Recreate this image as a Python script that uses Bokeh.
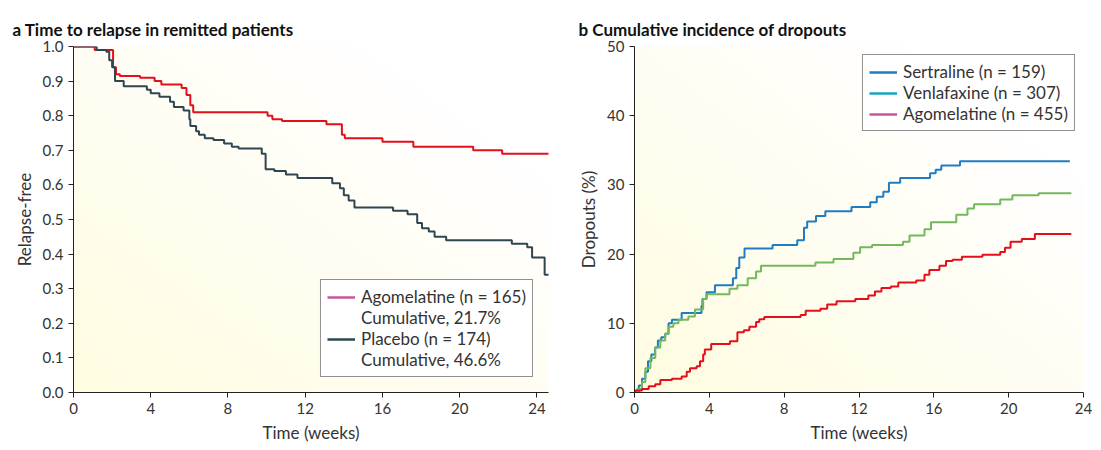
import numpy as np
from bokeh.plotting import figure
from bokeh.layouts import row
from bokeh.models import Legend, LegendItem, Range1d, FixedTicker, CustomJSTickFormatter
from bokeh.embed import file_html
from bokeh.resources import INLINE

# Panel a: Kaplan-Meier relapse-free
ago_a_t = [0, 1.1, 2.05, 2.2, 2.4, 3.45, 4.2, 4.55, 5.6, 5.85, 6.05, 6.2, 10.05, 10.3, 10.8, 13.1, 13.9, 14.05, 16.0, 17.6, 20.7, 22.2, 24.7]
ago_a_s = [1.0, 0.99, 0.94, 0.92, 0.915, 0.91, 0.90, 0.89, 0.88, 0.86, 0.83, 0.81, 0.80, 0.79, 0.785, 0.775, 0.745, 0.735, 0.725, 0.71, 0.70, 0.69, 0.69]
pla_t = [0, 1.2, 1.7, 1.85, 2.0, 2.15, 2.6, 3.8, 4.0, 4.45, 5.0, 5.2, 5.7, 6.0, 6.05, 6.35, 6.5, 6.8, 7.25, 7.8, 8.2, 8.55, 9.75, 9.95, 10.4, 11.0, 11.6, 13.4, 13.8, 14.0, 14.25, 14.55, 16.55, 17.3, 17.8, 18.05, 18.4, 18.7, 19.3, 22.7, 23.5, 23.75, 24.4, 24.7]
pla_s = [1.0, 0.99, 0.985, 0.96, 0.94, 0.90, 0.885, 0.875, 0.865, 0.855, 0.84, 0.825, 0.815, 0.79, 0.77, 0.755, 0.745, 0.735, 0.73, 0.72, 0.71, 0.705, 0.69, 0.645, 0.64, 0.63, 0.62, 0.605, 0.59, 0.57, 0.555, 0.535, 0.525, 0.515, 0.49, 0.475, 0.465, 0.45, 0.44, 0.43, 0.42, 0.39, 0.34, 0.34]

# Panel b: cumulative dropouts (%)
ser_t = [0, 0.23, 0.4, 0.58, 0.72, 0.9, 1.1, 1.25, 1.43, 1.64, 1.82, 2.0, 2.52, 3.58, 3.63, 3.85, 4.3, 5.26, 5.44, 5.6, 5.88, 7.38, 8.7, 9.06, 9.23, 9.7, 10.2, 11.6, 12.6, 12.95, 13.3, 13.6, 14.2, 15.8, 16.1, 16.4, 17.4, 23.27]
ser_v = [0, 1, 2, 3, 4.5, 5.5, 6.5, 7.5, 8, 8.5, 10, 10.5, 11.5, 12.5, 13.5, 14.5, 15.5, 16.5, 18, 19.5, 20.8, 21.3, 22, 23.8, 24.7, 25.5, 26.2, 26.8, 27.5, 28.3, 29, 30.3, 31, 31.7, 32.2, 32.8, 33.4, 33.4]
ven_t = [0, 0.14, 0.4, 0.58, 0.85, 1.11, 1.38, 1.64, 1.82, 2.08, 2.35, 2.88, 3.23, 3.67, 3.85, 5.08, 5.5, 6.05, 6.5, 6.76, 9.67, 10.64, 11.7, 12.06, 12.7, 14.35, 14.7, 15.5, 15.85, 17.2, 17.8, 18.15, 19.55, 20.2, 21.6, 23.35]
ven_v = [0, 0.5, 1.5, 3.5, 5, 6.5, 7.5, 8.5, 9.5, 10, 10.5, 11, 12, 13.5, 14.2, 15, 15.5, 16.5, 17.5, 18.3, 18.8, 19.3, 20.2, 21, 21.3, 21.8, 22.7, 23.6, 24.6, 25.7, 26.6, 27.2, 27.9, 28.5, 28.8, 28.8]
ago_b_t = [0, 0.05, 0.4, 0.76, 1.11, 1.38, 2.0, 2.52, 2.79, 2.97, 3.32, 3.5, 3.67, 3.76, 4.1, 5.1, 5.5, 5.85, 6.14, 6.5, 6.67, 6.94, 8.88, 9.15, 9.94, 10.3, 10.8, 11.8, 12.5, 12.85, 13.2, 13.7, 14.1, 15.06, 15.5, 15.76, 16.3, 16.65, 17.0, 17.5, 18.6, 19.55, 19.8, 20.1, 20.7, 21.4, 23.35]
ago_b_v = [0, 0.3, 0.5, 0.9, 1.2, 1.8, 2.0, 2.3, 3.0, 3.5, 3.8, 4.5, 5.5, 6.2, 7.0, 7.4, 8.7, 9.0, 9.5, 10.2, 10.6, 10.9, 11.2, 11.8, 12.1, 12.7, 13.2, 13.5, 14.0, 14.6, 15.1, 15.3, 15.9, 16.2, 17.0, 17.7, 18.3, 19.0, 19.2, 19.6, 19.9, 20.3, 20.9, 21.8, 22.2, 22.9, 22.9]

FONT = "Lato"
TXT = "#333333"

def gradient(w=200, h=120):
    xs = np.linspace(0, 1, w)[None, :]
    ys = np.linspace(0, 1, h)[:, None]
    t = np.clip(1 - (xs + ys) / 1.6, 0, 1)
    r = np.full((h, w), 255, dtype=np.uint32)
    g = (255 - 3 * t).astype(np.uint32)
    b = (255 - 30 * t).astype(np.uint32)
    img = (255 << 24) | (b << 16) | (g << 8) | r
    return img.astype(np.uint32)

def make_fig(title, xr, yr, yticks, ylabel, fw, fh, bl, br, toff):
    p = figure(frame_width=fw, frame_height=fh, x_range=Range1d(*xr), y_range=Range1d(*yr),
               output_backend="svg", toolbar_location=None, min_border_left=bl,
               min_border_right=br, min_border_top=46, min_border_bottom=5)
    p.title.text = title
    p.title.text_font = FONT
    p.title.text_font_size = "17px"
    p.title.text_font_style = "bold"
    p.title.text_color = "#111111"
    p.title.offset = toff
    p.title.standoff = 14
    p.outline_line_color = None
    p.grid.visible = False
    p.image_rgba(image=[gradient()], x=xr[0], y=yr[0], dw=xr[1] - xr[0], dh=yr[1] - yr[0])
    for ax in (p.xaxis[0], p.yaxis[0]):
        ax.axis_line_color = "#222222"
        ax.major_tick_line_color = "#222222"
        ax.minor_tick_line_color = None
        ax.major_tick_in = 0
        ax.major_tick_out = 5
        ax.major_label_text_font = FONT
        ax.major_label_text_font_size = "15px"
        ax.major_label_text_color = TXT
        ax.axis_label_text_font = FONT
        ax.axis_label_text_font_size = "17px"
        ax.axis_label_text_font_style = "normal"
        ax.axis_label_text_color = TXT
    p.xaxis.ticker = FixedTicker(ticks=[0, 4, 8, 12, 16, 20, 24])
    p.yaxis.ticker = FixedTicker(ticks=yticks)
    p.xaxis.axis_label = "Time (weeks)"
    p.yaxis.axis_label = ylabel
    return p

pa = make_fig("a  Time to relapse in remitted patients", (0, 24.6), (0, 1.0),
              [i / 10 for i in range(11)], "Relapse-free", 475, 346, 73, 12, -61)
pa.yaxis.formatter = CustomJSTickFormatter(code="return tick.toFixed(1);")
pa.step(ago_a_t, ago_a_s, mode="after", line_color="#e3101c", line_width=2)
pa.step(pla_t, pla_s, mode="after", line_color="#2f4550", line_width=2)
la1 = pa.line([0], [0], line_color="#c8559b", line_width=2.5)
la2 = pa.line([0], [0], line_color="#2f4550", line_width=2.5)
blank = pa.line([0], [0], line_alpha=0)
leg_a = Legend(items=[LegendItem(label="Agomelatine (n = 165)", renderers=[la1]),
                      LegendItem(label="Cumulative, 21.7%", renderers=[blank]),
                      LegendItem(label="Placebo (n = 174)", renderers=[la2]),
                      LegendItem(label="Cumulative, 46.6%", renderers=[blank])],
               location="bottom_right")
pa.add_layout(leg_a)

pb = make_fig("b  Cumulative incidence of dropouts", (0, 24), (0, 50),
              [0, 10, 20, 30, 40, 50], "Dropouts (%)", 449, 346, 74, 10, -56)
pb.step(ser_t, ser_v, mode="after", line_color="#1f7cc2", line_width=2)
pb.step(ven_t, ven_v, mode="after", line_color="#73b85c", line_width=2)
pb.step(ago_b_t, ago_b_v, mode="after", line_color="#e3101c", line_width=2)
lb1 = pb.line([0], [0], line_color="#1f7cc2", line_width=2.5)
lb2 = pb.line([0], [0], line_color="#1aa3c4", line_width=2.5)
lb3 = pb.line([0], [0], line_color="#c8559b", line_width=2.5)
leg_b = Legend(items=[LegendItem(label="Sertraline (n = 159)", renderers=[lb1]),
                      LegendItem(label="Venlafaxine (n = 307)", renderers=[lb2]),
                      LegendItem(label="Agomelatine (n = 455)", renderers=[lb3])],
               location="top_right")
pb.add_layout(leg_b)

for lg, m in ((leg_a, 15), (leg_b, 8)):
    lg.label_text_font = FONT
    lg.label_text_font_size = "17px"
    lg.label_text_color = TXT
    lg.border_line_color = "#222222"
    lg.border_line_width = 1
    lg.background_fill_color = "white"
    lg.background_fill_alpha = 1
    lg.glyph_width = 28
    lg.spacing = -3
    lg.padding = 6
    lg.margin = m
    lg.label_standoff = 6

layout = row(pa, pb, spacing=0)
open("out.html", "w").write(file_html(layout, INLINE))
